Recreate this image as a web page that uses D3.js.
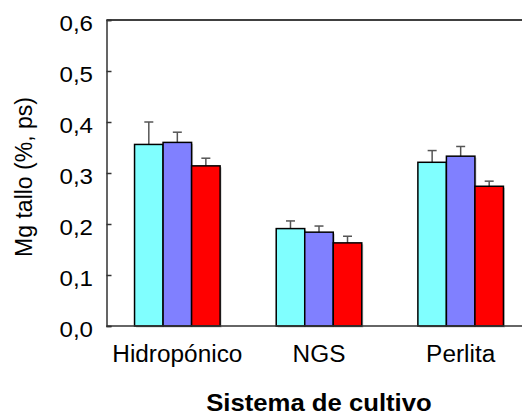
<!DOCTYPE html>
<html>
<head>
<meta charset="utf-8">
<script src="https://cdn.jsdelivr.net/npm/d3@7"></script>
<style>
  html, body { margin: 0; padding: 0; background: #fff; }
  svg { display: block; font-family: "Liberation Sans", Arial, sans-serif; }
</style>
</head>
<body>
<svg id="chart" width="522" height="415"></svg>
<script>
// Mg content in stem by growing system, three treatments per system
const categories = ["Hidropónico", "NGS", "Perlita"];
const seriesNames = ["t1", "t2", "t3"];
const seriesColors = ["#80FFFF", "#8080FF", "#FF0000"];
const valuesT1 = [0.356, 0.191, 0.321];
const valuesT2 = [0.360, 0.184, 0.333];
const valuesT3 = [0.314, 0.163, 0.274];
const errorsT1 = [0.044, 0.015, 0.023];
const errorsT2 = [0.020, 0.012, 0.019];
const errorsT3 = [0.015, 0.013, 0.010];
const yTicks = [0, 0.1, 0.2, 0.3, 0.4, 0.5, 0.6];
const yLabel = "Mg tallo (%, ps)";
const xLabel = "Sistema de cultivo";

const values = [valuesT1, valuesT2, valuesT3];
const errors = [errorsT1, errorsT2, errorsT3];
const rows = [];
categories.forEach((c, i) => {
  seriesNames.forEach((s, j) => {
    rows.push({ cat: c, ser: s, color: seriesColors[j], v: values[j][i], e: errors[j][i] });
  });
});

const svg = d3.select("#chart");
const plotLeft = 106.5, plotTop = 20, plotBottom = 326, plotRight = 531.5;

// slightly wide lettering: stretch each text run horizontally
function widen(sel, k) {
  sel.each(function () {
    const len = this.getComputedTextLength();
    d3.select(this).attr("textLength", len * k).attr("lengthAdjust", "spacingAndGlyphs");
  });
}

const x = d3.scaleBand().domain(categories).range([plotLeft, plotRight])
  .paddingInner(0.396).paddingOuter(0.198);
const xs = d3.scaleBand().domain(seriesNames).range([0, x.bandwidth()]).padding(0);
const y = d3.scaleLinear().domain([0, 0.6]).range([plotBottom, plotTop]);

// frame top line
svg.append("line").attr("x1", plotLeft).attr("x2", 522).attr("y1", plotTop).attr("y2", plotTop)
  .attr("stroke", "#000").attr("stroke-width", 1.5);

const g = svg.append("g");

// bar shadows
g.selectAll("rect.shadow").data(rows).enter().append("rect")
  .attr("x", d => x(d.cat) + xs(d.ser) + 1.5)
  .attr("y", d => y(d.v) + 1.5)
  .attr("width", xs.bandwidth())
  .attr("height", d => y(0) - y(d.v))
  .attr("fill", "#c8c8c8");

// error bars
const eb = g.selectAll("g.err").data(rows).enter().append("g");
eb.append("line")
  .attr("x1", d => x(d.cat) + xs(d.ser) + xs.bandwidth() / 2)
  .attr("x2", d => x(d.cat) + xs(d.ser) + xs.bandwidth() / 2)
  .attr("y1", d => y(d.v)).attr("y2", d => y(d.v + d.e))
  .attr("stroke", "#555").attr("stroke-width", 1.5);
eb.append("line")
  .attr("x1", d => x(d.cat) + xs(d.ser) + xs.bandwidth() / 2 - 4.5)
  .attr("x2", d => x(d.cat) + xs(d.ser) + xs.bandwidth() / 2 + 4.5)
  .attr("y1", d => y(d.v + d.e)).attr("y2", d => y(d.v + d.e))
  .attr("stroke", "#555").attr("stroke-width", 1.5);

// bars
g.selectAll("rect.bar").data(rows).enter().append("rect")
  .attr("x", d => x(d.cat) + xs(d.ser))
  .attr("y", d => y(d.v))
  .attr("width", xs.bandwidth())
  .attr("height", d => y(0) - y(d.v))
  .attr("fill", d => d.color)
  .attr("stroke", "#000").attr("stroke-width", 1.5);

// y axis
const yAxis = d3.axisRight(y).tickValues(yTicks).tickSize(5)
  .tickFormat(d => d3.format(".1f")(d).replace(".", ","));
const ya = svg.append("g").attr("transform", `translate(${plotLeft},0)`).call(yAxis);
ya.select(".domain").attr("stroke", "#333").attr("stroke-width", 1.5);
ya.selectAll(".tick line").attr("stroke", "#333").attr("stroke-width", 1.5);
ya.selectAll(".tick text")
  .attr("x", -13.5).attr("dy", 10.5)
  .attr("text-anchor", "end")
  .attr("fill", "#000").attr("font-size", 22.5)
  .attr("font-family", "'Liberation Sans', Arial, sans-serif")
  .call(widen, 1.07);

// x axis
const xAxis = d3.axisBottom(x).tickSize(0);
const xa = svg.append("g").attr("transform", `translate(0,${plotBottom})`).call(xAxis);
xa.select(".domain").remove();
xa.append("line").attr("x1", plotLeft).attr("x2", 522).attr("y1", 0).attr("y2", 0)
  .attr("stroke", "#333").attr("stroke-width", 1.5);
xa.selectAll(".tick text")
  .attr("y", 36).attr("dy", 0)
  .attr("fill", "#000").attr("font-size", 23)
  .attr("font-family", "'Liberation Sans', Arial, sans-serif")
  .call(widen, 1.06);

// axis titles
svg.append("text")
  .attr("transform", `translate(31.5,177) rotate(-90)`)
  .attr("text-anchor", "middle")
  .attr("font-size", 23).attr("fill", "#000")
  .text(yLabel);
svg.append("text")
  .attr("x", 319).attr("y", 411)
  .attr("text-anchor", "middle")
  .attr("font-size", 24).attr("font-weight", "bold").attr("fill", "#000")
  .text(xLabel)
  .call(widen, 1.07);
</script>
</body>
</html>
